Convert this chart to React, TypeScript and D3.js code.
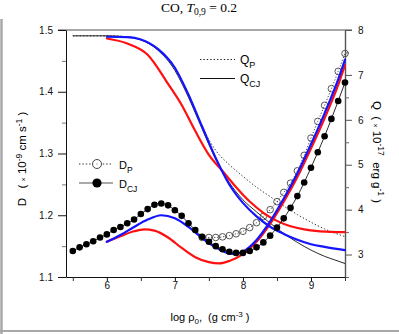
import * as d3 from 'd3'
import { useEffect, useRef } from 'react'

// symbol series (D axis), log rho_0 in steps of 0.1
const dotRho = [5.5, 5.6, 5.7, 5.8, 5.9, 6.0, 6.1, 6.2, 6.3, 6.4, 6.5, 6.6, 6.7, 6.8, 6.9, 7.0, 7.1, 7.2, 7.3, 7.4,
  7.5, 7.6, 7.7, 7.8, 7.9, 8.0, 8.1, 8.2, 8.3, 8.4, 8.5, 8.6, 8.7, 8.8, 8.9, 9.0, 9.1, 9.2, 9.3, 9.4, 9.5]
const dCJ = [1.142, 1.148, 1.153, 1.158, 1.164, 1.169, 1.176, 1.181, 1.187, 1.193, 1.202, 1.210, 1.217, 1.219, 1.216,
  1.208, 1.199, 1.187, 1.176, 1.165, 1.157, 1.150, 1.145, 1.141, 1.139, 1.139, 1.142, 1.148, 1.156, 1.167, 1.180,
  1.195, 1.212, 1.231, 1.253, 1.277, 1.302, 1.328, 1.356, 1.385, 1.415]
const pRho = [7.4, 7.5, 7.6, 7.7, 7.8, 7.9, 8.0, 8.1, 8.2, 8.3, 8.4, 8.5, 8.6, 8.7, 8.8, 8.9, 9.0, 9.1, 9.2, 9.3, 9.4, 9.5]
const dP = [1.164, 1.164, 1.164, 1.165, 1.167, 1.170, 1.174, 1.180, 1.188, 1.198, 1.209, 1.222, 1.237, 1.252, 1.272,
  1.297, 1.325, 1.352, 1.378, 1.405, 1.433, 1.462]

// coloured D curves
const blueDRho = [6.0, 6.2, 6.4, 6.6, 6.8, 7.0, 7.2, 7.4, 7.6, 7.8, 7.9, 8.0, 8.2, 8.4, 8.6, 8.8, 9.0, 9.2, 9.4, 9.5]
const blueD = [1.157, 1.168, 1.181, 1.193, 1.200, 1.195, 1.181, 1.163, 1.148, 1.138, 1.137, 1.141, 1.160, 1.190,
  1.227, 1.268, 1.315, 1.365, 1.420, 1.452]
const redDRho = [6.0, 6.2, 6.4, 6.55, 6.7, 6.9, 7.1, 7.3, 7.5, 7.65, 7.8, 8.0, 8.2, 8.4, 8.6, 8.8, 9.0, 9.2, 9.4, 9.5]
const redD = [1.157, 1.166, 1.174, 1.177, 1.175, 1.164, 1.147, 1.132, 1.124, 1.122, 1.126, 1.137, 1.157, 1.186,
  1.222, 1.262, 1.308, 1.357, 1.411, 1.443]

// Q curves (right axis)
const qCJRho = [5.5, 6.0, 6.3, 6.5, 6.75, 7.0, 7.2, 7.4, 7.6, 7.8, 8.0, 8.2, 8.4, 8.6, 8.8, 9.0, 9.2, 9.35, 9.5]
const qCJ = [7.87, 7.87, 7.85, 7.78, 7.55, 7.1, 6.5, 5.8, 5.12, 4.6, 4.22, 3.95, 3.7, 3.47, 3.27, 3.1, 2.96, 2.88, 2.8]
const qPRho = [5.5, 6.0, 6.3, 6.5, 6.75, 7.0, 7.2, 7.4, 7.6, 7.8, 8.0, 8.2, 8.4, 8.6, 8.8, 9.0, 9.2, 9.4, 9.5]
const qP = [7.87, 7.87, 7.85, 7.79, 7.58, 7.15, 6.58, 5.85, 5.32, 5.0, 4.74, 4.5, 4.29, 4.08, 3.89, 3.72, 3.57, 3.45, 3.4]
const blueQRho = [6.0, 6.3, 6.5, 6.75, 7.0, 7.2, 7.4, 7.6, 7.8, 8.0, 8.2, 8.4, 8.6, 8.8, 9.0, 9.2, 9.5]
const blueQ = [7.85, 7.84, 7.79, 7.58, 7.16, 6.56, 5.85, 5.15, 4.56, 4.15, 3.85, 3.62, 3.46, 3.33, 3.23, 3.17, 3.1]
const redQRho = [6.0, 6.3, 6.6, 6.9, 7.1, 7.3, 7.5, 7.7, 7.9, 8.1, 8.3, 8.5, 8.7, 8.9, 9.1, 9.3, 9.5]
const redQ = [7.81, 7.7, 7.45, 6.8, 6.33, 5.75, 5.22, 4.86, 4.5, 4.18, 3.93, 3.75, 3.63, 3.56, 3.52, 3.505, 3.5]

const xTicks = [6, 7, 8, 9]
const xMinor = [5.5, 6.5, 7.5, 8.5, 9.5]
const dTicks = [1.1, 1.2, 1.3, 1.4, 1.5]
const dMinor = [1.15, 1.25, 1.35, 1.45]
const qTicks = [3, 4, 5, 6, 7, 8]
const qMinor = [2.5, 3.5, 4.5, 5.5, 6.5, 7.5]

const SANS = 'Liberation Sans, Arial, sans-serif'

type Part = { t: string; size?: number; dy?: number; italic?: boolean }

function richText(sel: any, parts: Part[]) {
  parts.forEach(p => {
    const ts = sel.append('tspan').text(p.t)
    if (p.size) ts.attr('font-size', p.size)
    if (p.dy) ts.attr('dy', p.dy)
    if (p.italic) ts.attr('font-style', 'italic')
  })
}

export default function App() {
  const ref = useRef<SVGSVGElement>(null)

  useEffect(() => {
    const svg = d3.select(ref.current)
    svg.selectAll('*').remove()

    const x = d3.scaleLinear().domain([5.4, 9.5]).range([66, 345])
    const yD = d3.scaleLinear().domain([1.1, 1.5]).range([277, 30])
    const yQ = d3.scaleLinear().domain([2.5, 8]).range([277, 30])

    svg.append('rect').attr('width', 399).attr('height', 334).attr('fill', '#fff')
    // screenshot frame
    svg.append('line').attr('x1', 1.5).attr('x2', 1.5).attr('y1', 19).attr('y2', 334)
      .attr('stroke', '#a8a8a8').attr('stroke-width', 2.5)
    svg.append('line').attr('x1', 0).attr('x2', 399).attr('y1', 331).attr('y2', 331)
      .attr('stroke', '#a8a8a8').attr('stroke-width', 2)

    // title
    const title = svg.append('text').attr('x', 199).attr('y', 12).attr('text-anchor', 'middle')
      .attr('font-family', 'Liberation Serif, serif').attr('font-size', 13.5)
    richText(title, [{ t: 'CO, ' }, { t: 'T', italic: true }, { t: '0,9', size: 9.5, dy: 2.5 }, { t: ' = 0.2', dy: -2.5 }])

    // top frame line
    svg.append('line').attr('x1', 58).attr('x2', 352).attr('y1', 30).attr('y2', 30)
      .attr('stroke', '#8a8a8a').attr('stroke-width', 1.6)

    const styleAxis = (g: any, col: string) => {
      g.selectAll('text').attr('font-family', SANS).attr('font-size', 10).attr('fill', '#111')
      g.selectAll('line').attr('stroke', col)
      g.select('.domain').attr('stroke', col)
    }

    // left axis
    const gl = svg.append('g').attr('transform', 'translate(66,0)')
      .call(d3.axisLeft(yD).tickValues(dTicks).tickSize(8).tickSizeOuter(0).tickPadding(5).tickFormat(d3.format('.1f')))
    styleAxis(gl, '#111')
    const glm = svg.append('g').attr('transform', 'translate(66,0)')
      .call(d3.axisLeft(yD).tickValues(dMinor).tickSize(4).tickFormat(() => ''))
    glm.select('.domain').remove()
    glm.selectAll('line').attr('stroke', '#777')

    // right axis
    const gr = svg.append('g').attr('transform', 'translate(345,0)')
      .call(d3.axisRight(yQ).tickValues(qTicks).tickSize(7).tickSizeOuter(0).tickPadding(6).tickFormat(d3.format('d')))
    styleAxis(gr, '#555')
    gr.select('.domain').attr('stroke-width', 1.4)
    const grm = svg.append('g').attr('transform', 'translate(345,0)')
      .call(d3.axisRight(yQ).tickValues(qMinor).tickSize(4).tickFormat(() => ''))
    grm.select('.domain').remove()
    grm.selectAll('line').attr('stroke', '#666')

    // bottom axis
    const gb = svg.append('g').attr('transform', 'translate(0,277)')
      .call(d3.axisBottom(x).tickValues(xTicks).tickSize(4).tickSizeOuter(0).tickPadding(1).tickFormat(d3.format('d')))
    styleAxis(gb, '#111')
    const gbm = svg.append('g').attr('transform', 'translate(0,277)')
      .call(d3.axisBottom(x).tickValues(xMinor).tickSize(4).tickFormat(() => ''))
    gbm.select('.domain').remove()
    gbm.selectAll('line').attr('stroke', '#333')

    // axis titles
    const xl = svg.append('text').attr('x', 210).attr('y', 321).attr('text-anchor', 'middle')
      .attr('font-family', SANS).attr('font-size', 11).style('white-space', 'pre')
    richText(xl, [{ t: 'log ρ' }, { t: '0', size: 8, dy: 3 }, { t: ',  (g cm', dy: -3 }, { t: '-3', size: 8, dy: -4.5 }, { t: ' )', dy: 4.5 }])

    const yl = svg.append('text').attr('transform', 'translate(26,159) rotate(-90)').attr('text-anchor', 'middle')
      .attr('font-family', SANS).attr('font-size', 11.5).style('white-space', 'pre')
    richText(yl, [{ t: 'D   ( ' }, { t: '×', size: 7 }, { t: ' 10' }, { t: '-9', size: 8.5, dy: -4.5 },
      { t: ' cm s', dy: 4.5 }, { t: '-1', size: 8.5, dy: -4.5 }, { t: ' )', dy: 4.5 }])

    const yr = svg.append('text').attr('transform', 'translate(373,152) rotate(90)').attr('text-anchor', 'middle')
      .attr('font-family', SANS).attr('font-size', 11.5).style('white-space', 'pre')
    richText(yr, [{ t: 'Q  ( ' }, { t: '×', size: 7 }, { t: ' 10' }, { t: '-17', size: 8.5, dy: -4.5 },
      { t: '  erg g', dy: 4.5 }, { t: '-1', size: 8.5, dy: -4.5 }, { t: ' )', dy: 4.5 }])

    const line = (xs: number[], ys: number[], sy: any) =>
      d3.line<number>().x((_, i) => x(xs[i])).y(d => sy(d)).curve(d3.curveMonotoneX)(ys)

    // Q curves
    svg.append('path').attr('d', line(qPRho, qP, yQ)).attr('fill', 'none').attr('stroke', '#222')
      .attr('stroke-width', 0.9).attr('stroke-dasharray', '1.4,2')
    svg.append('path').attr('d', line(qCJRho, qCJ, yQ)).attr('fill', 'none').attr('stroke', '#111')
      .attr('stroke-width', 0.9)

    // D_P
    svg.append('path').attr('d', line(pRho, dP, yD)).attr('fill', 'none').attr('stroke', '#333')
      .attr('stroke-width', 0.9).attr('stroke-dasharray', '1.2,1.8')
    svg.append('g').selectAll('circle').data(dP).enter().append('circle')
      .attr('cx', (_, i) => x(pRho[i])).attr('cy', d => yD(d)).attr('r', 3.3)
      .attr('fill', 'none').attr('stroke', '#444').attr('stroke-width', 0.9)

    // coloured curves
    const thick = (xs: number[], ys: number[], sy: any, col: string) =>
      svg.append('path').attr('d', line(xs, ys, sy)).attr('fill', 'none').attr('stroke', col)
        .attr('stroke-width', 2.2).attr('stroke-linecap', 'round')
    thick(redQRho, redQ, yQ, '#ff1010')
    thick(redDRho, redD, yD, '#ff1010')
    thick(blueQRho, blueQ, yQ, '#1414ff')
    thick(blueDRho, blueD, yD, '#1414ff')

    // D_CJ
    svg.append('path').attr('d', line(dotRho, dCJ, yD)).attr('fill', 'none').attr('stroke', '#111')
      .attr('stroke-width', 0.9)
    svg.append('g').selectAll('circle').data(dCJ).enter().append('circle')
      .attr('cx', (_, i) => x(dotRho[i])).attr('cy', d => yD(d)).attr('r', 3.3).attr('fill', '#000')

    // legend, left
    svg.append('line').attr('x1', 79).attr('x2', 113).attr('y1', 164).attr('y2', 164)
      .attr('stroke', '#333').attr('stroke-dasharray', '1.4,2')
    svg.append('circle').attr('cx', 97).attr('cy', 164).attr('r', 4.5).attr('fill', '#fff')
      .attr('stroke', '#444').attr('stroke-width', 1)
    svg.append('circle').attr('cx', 97).attr('cy', 164).attr('r', 0.6).attr('fill', '#666')
    svg.append('line').attr('x1', 79).attr('x2', 113).attr('y1', 183).attr('y2', 183).attr('stroke', '#555')
      .attr('stroke-width', 1.2)
    svg.append('circle').attr('cx', 97).attr('cy', 183).attr('r', 4.6).attr('fill', '#000')
    const lp = svg.append('text').attr('x', 119).attr('y', 169).attr('font-family', SANS).attr('font-size', 11)
    richText(lp, [{ t: 'D' }, { t: 'P', size: 8.5, dy: 4 }])
    const lc = svg.append('text').attr('x', 119).attr('y', 188).attr('font-family', SANS).attr('font-size', 11)
    richText(lc, [{ t: 'D' }, { t: 'CJ', size: 8.5, dy: 4 }])

    // legend, right
    svg.append('line').attr('x1', 200).attr('x2', 235).attr('y1', 59.5).attr('y2', 59.5)
      .attr('stroke', '#222').attr('stroke-dasharray', '1.4,2')
    svg.append('line').attr('x1', 200).attr('x2', 235).attr('y1', 78.5).attr('y2', 78.5)
      .attr('stroke', '#111').attr('stroke-width', 1)
    const qp = svg.append('text').attr('x', 240).attr('y', 64).attr('font-family', SANS).attr('font-size', 12)
    richText(qp, [{ t: 'Q' }, { t: 'P', size: 9, dy: 4 }])
    const qc = svg.append('text').attr('x', 240).attr('y', 83).attr('font-family', SANS).attr('font-size', 12)
    richText(qc, [{ t: 'Q' }, { t: 'CJ', size: 9, dy: 4 }])
  }, [])

  return (
    <svg ref={ref} width={399} height={334}
      style={{ position: 'absolute', left: 0, top: 0, display: 'block' }} />
  )
}
